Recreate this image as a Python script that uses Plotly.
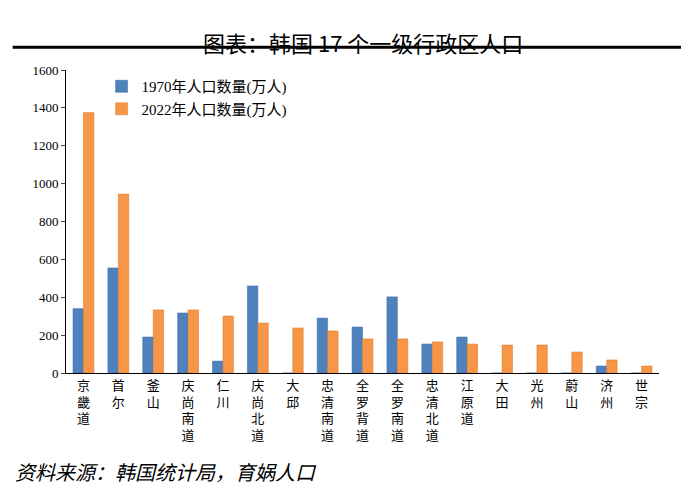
import plotly.graph_objects as go

regions = ["京畿道", "首尔", "釜山", "庆尚南道", "仁川", "庆尚北道", "大邱", "忠清南道", "全罗背道",
           "全罗南道", "忠清北道", "江原道", "大田", "光州", "蔚山", "济州", "世宗"]
pop_1970 = [340, 555, 190, 317, 63, 460, 0, 290, 243, 402, 153, 190, 0, 0, 0, 37, 0]
pop_2022 = [1375, 945, 333, 333, 301, 264, 238, 222, 180, 180, 164, 153, 148, 148, 111, 69, 37]

labels = ["<br>".join(r) for r in regions]

fig = go.Figure()
fig.add_trace(go.Bar(x=labels, y=pop_1970, name="1970年人口数量(万人)",
                     marker=dict(color="#4F81BD", line=dict(color="#3A6AA5", width=0.5))))
fig.add_trace(go.Bar(x=labels, y=pop_2022, name="2022年人口数量(万人)",
                     marker=dict(color="#F79646", line=dict(color="#D9782D", width=0.5))))

fig.update_layout(
    width=689, height=500,
    margin=dict(l=58, r=38, t=62, b=135),
    plot_bgcolor="white", paper_bgcolor="white",
    bargap=0.4, bargroupgap=0,
    font=dict(family="Liberation Serif, Noto Sans CJK SC", size=13, color="black"),
    legend=dict(orientation="h", x=0.06, y=1.0, xanchor="left", yanchor="top",
                font=dict(size=15, family="Liberation Serif, Noto Sans CJK SC"),
                itemwidth=30, entrywidth=270),
    showlegend=True,
)
fig.update_yaxes(range=[0, 1600], dtick=200, showgrid=False, showline=True, linecolor="black",
                 ticks="outside", ticklen=4, tickfont=dict(size=13))
fig.update_xaxes(showline=True, linecolor="black", ticks="", tickangle=0,
                 tickfont=dict(size=13, family="Noto Sans CJK SC"))

fig.add_annotation(text="图表：韩国 17 个一级行政区人口", xref="paper", yref="paper",
                   x=0.5, y=1.0, yshift=46, showarrow=False,
                   font=dict(size=22, family="Noto Sans CJK SC"))
fig.add_shape(type="line", xref="paper", yref="paper", x0=-0.09, x1=1.06, y0=1.075, y1=1.075,
              line=dict(color="black", width=3))
fig.add_annotation(text="<i>资料来源：韩国统计局，育娲人口</i>", xref="paper", yref="paper",
                   x=-0.09, y=-0.38, xanchor="left", showarrow=False,
                   font=dict(size=20, family="Noto Sans CJK SC"))

fig.write_html("out.html")
